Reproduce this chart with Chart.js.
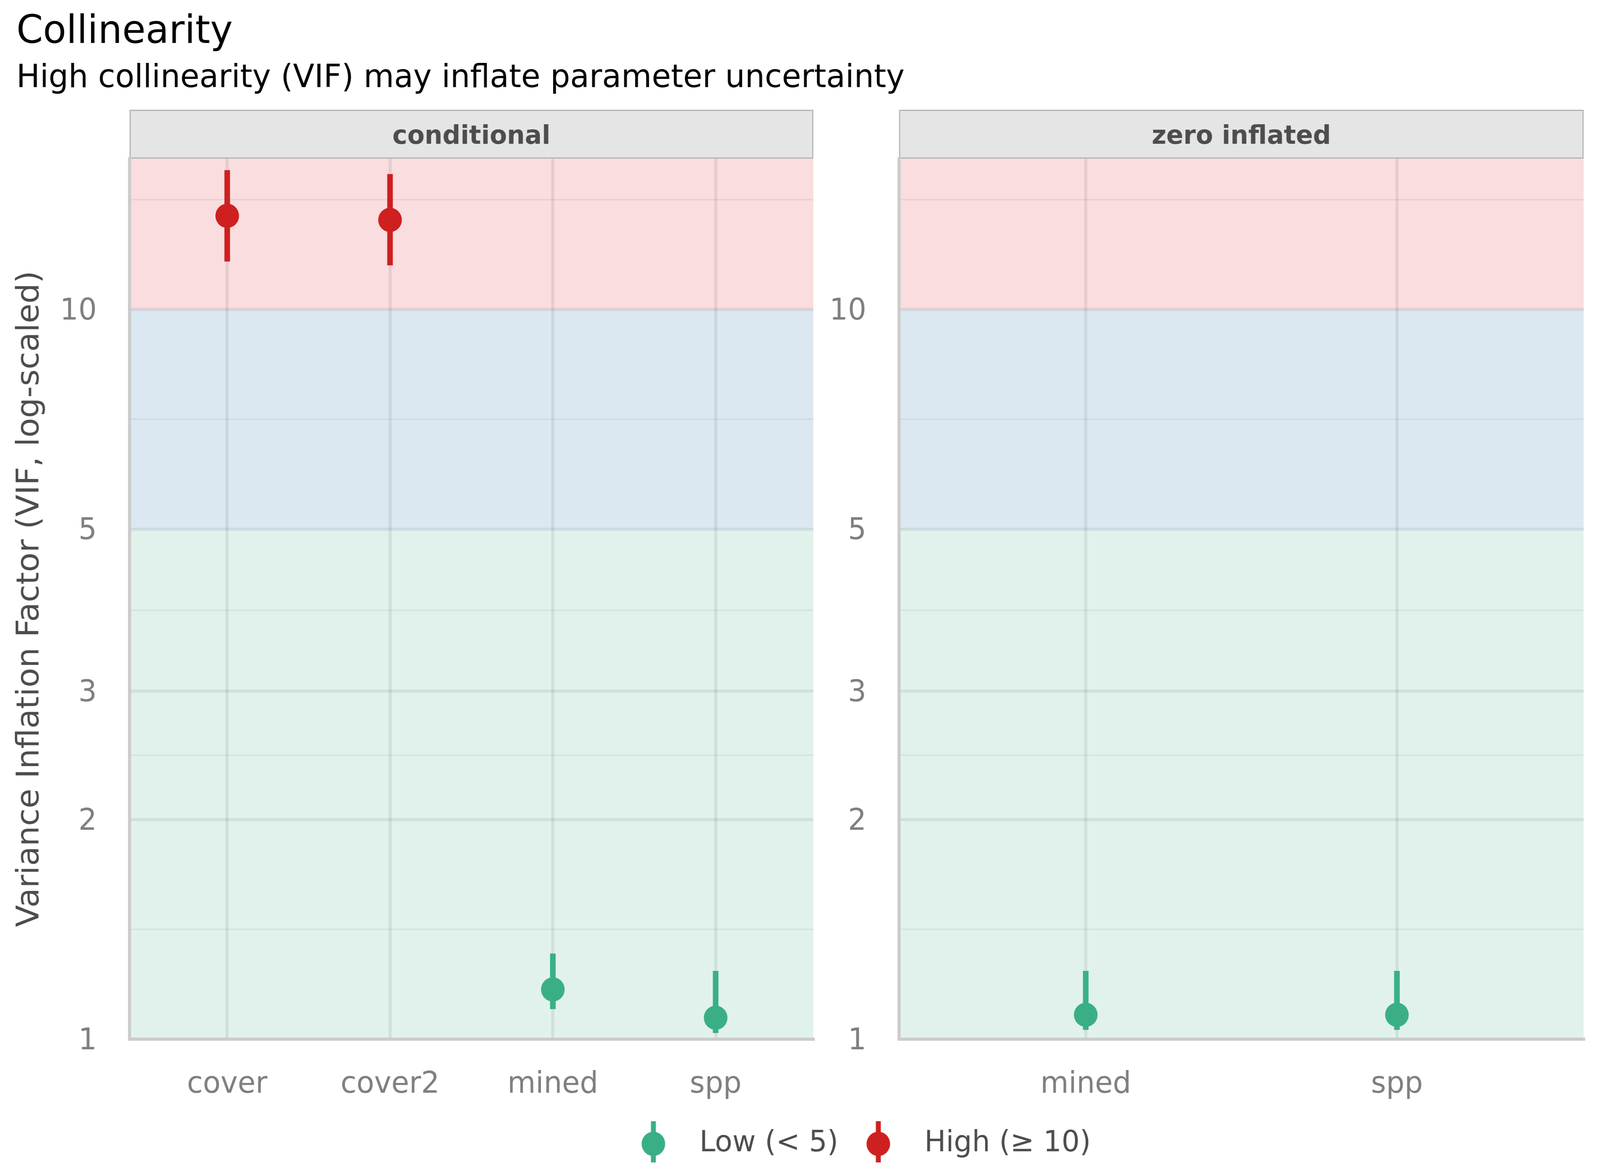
<!DOCTYPE html>
<html>
<head>
<meta charset="utf-8">
<style>
  html, body { margin: 0; padding: 0; background: #fff; overflow: hidden; }
  #wrap { position: relative; }
  canvas { position: absolute; left: 0; top: 0; }
</style>
</head>
<body>
<div id="wrap">
  <canvas id="condChart" width="4200" height="3000"></canvas>
  <canvas id="ziChart" width="4200" height="3000"></canvas>
</div>
<script src="https://cdn.jsdelivr.net/npm/chart.js"></script>
<script>
// conditional component
const condTerms = ['cover', 'cover2', 'mined', 'spp'];
const condVIF = [13.44, 13.27, 1.17, 1.07];
const condLo = [11.64, 11.50, 1.10, 1.02];
const condHi = [15.52, 15.33, 1.31, 1.24];

// zero inflated component
const ziTerms = ['mined', 'spp'];
const ziVIF = [1.08, 1.08];
const ziLo = [1.03, 1.03];
const ziHi = [1.24, 1.24];

const yMajor = [1, 2, 3, 5, 10];
const yMinor = [1.414, 2.449, 3.873, 7.071, 14.142];
const yMax = 16.1;

const groupNames = ['Low (< 5)', 'High (≥ 10)'];
const groupColors = ['#3AAF85', '#CD201F'];

// the figure is laid out on a 4200x3000 canvas, shown at the window size
const viewW = window.innerWidth || 4200, viewH = window.innerHeight || 3000;
document.getElementById('wrap').style.cssText = 'width:' + viewW + 'px;height:' + viewH + 'px';
document.querySelectorAll('canvas').forEach(c => {
  c.style.width = viewW + 'px';
  c.style.height = viewH + 'px';
});

Chart.defaults.font.family = '"DejaVu Sans", sans-serif';

// split one component into point / interval data for low or high group
function split(terms, vif, lo, hi, high) {
  const pts = [], bars = [];
  terms.forEach((t, i) => {
    if ((vif[i] >= 10) === high) {
      pts.push({x: i + 1, y: vif[i]});
      bars.push({x: i + 1, y: [lo[i], hi[i]]});
    }
  });
  return {pts, bars};
}

function makeDatasets(terms, vif, lo, hi) {
  const out = [];
  [false, true].forEach((high, g) => {
    const d = split(terms, vif, lo, hi, high);
    out.push({
      type: 'scatter', label: groupNames[g], data: d.pts,
      xAxisID: 'x', yAxisID: 'y',
      backgroundColor: groupColors[g], pointBackgroundColor: groupColors[g],
      pointRadius: 31, pointBorderWidth: 0, order: 0
    });
    out.push({
      type: 'bar', label: groupNames[g] + ' CI', data: d.bars,
      xAxisID: 'x', yAxisID: 'y',
      backgroundColor: groupColors[g], borderWidth: 0,
      barThickness: 14, grouped: false, order: 1
    });
  });
  return out;
}

const isMajor = c => c.tick && yMajor.includes(c.tick.value);

function yScale(width, title) {
  return {
    type: 'logarithmic', axis: 'y', position: 'left', min: 1, max: yMax,
    afterBuildTicks: ax => {
      ax.ticks = yMajor.concat(yMinor).sort((a, b) => a - b).map(v => ({value: v}));
    },
    afterFit: ax => { ax.width = width; },
    ticks: {
      callback: v => yMajor.includes(v) ? String(v) : '',
      color: '#7F7F7F', font: {size: 76}, padding: 86, labelOffset: 6, autoSkip: false
    },
    grid: {
      drawTicks: false,
      color: c => isMajor(c) ? 'rgba(0,0,0,0.075)' : 'rgba(0,0,0,0.055)',
      lineWidth: c => isMajor(c) ? 8 : 4
    },
    border: {display: true, color: '#CBCBCB', width: 8},
    title: title ? {
      display: true, text: title, color: '#4D4D4D',
      font: {size: 82, lineHeight: 0.9}, padding: 0
    } : {display: false}
  };
}

function xScale(terms) {
  return {
    type: 'linear', axis: 'x', position: 'bottom',
    min: 0.4, max: terms.length + 0.6, offset: false,
    afterBuildTicks: ax => { ax.ticks = terms.map((t, i) => ({value: i + 1})); },
    afterFit: ax => { ax.height = 209; },
    ticks: {
      callback: v => terms[v - 1],
      color: '#7F7F7F', font: {size: 76}, padding: 72,
      autoSkip: false, maxRotation: 0
    },
    grid: {drawTicks: false, offset: false, color: 'rgba(0,0,0,0.075)', lineWidth: 8},
    border: {display: true, color: '#CBCBCB', width: 8}
  };
}

function stripScale(label) {
  return {
    type: 'linear', axis: 'x', position: 'top',
    afterFit: ax => { ax.height = 125; },
    ticks: {display: false}, grid: {display: false}, border: {display: false},
    title: {
      display: true, text: label, color: '#4D4D4D',
      font: {size: 66, weight: 'bold'}, padding: {top: 30, bottom: 0}
    }
  };
}

function padScale(width) {
  return {
    type: 'linear', axis: 'y', position: 'right',
    afterFit: ax => { ax.width = width; },
    ticks: {display: false}, grid: {display: false}, border: {display: false}
  };
}

// coloured VIF zones and facet strip
const bands = {
  id: 'bands',
  beforeDraw(chart) {
    const {ctx, chartArea: a, scales} = chart;
    const y = scales.y;
    const y5 = y.getPixelForValue(5), y10 = y.getPixelForValue(10);
    ctx.save();
    ctx.fillStyle = '#E1F2EC';
    ctx.fillRect(a.left, y5, a.width, a.bottom - y5);
    ctx.fillStyle = '#DCE8F1';
    ctx.fillRect(a.left, y10, a.width, y5 - y10);
    ctx.fillStyle = '#F9DDDF';
    ctx.fillRect(a.left, a.top, a.width, y10 - a.top);
    const s = scales.strip;
    ctx.fillStyle = '#E5E5E5';
    ctx.fillRect(a.left, s.top, a.width, s.bottom - s.top);
    ctx.strokeStyle = '#B3B3B3';
    ctx.lineWidth = 3;
    ctx.strokeRect(a.left + 1.5, s.top + 1.5, a.width - 3, s.bottom - s.top - 3);
    ctx.restore();
  }
};

function legendIcon(color) {
  const c = document.createElement('canvas');
  c.width = 64; c.height = 116;
  const g = c.getContext('2d');
  g.fillStyle = color;
  g.fillRect(25.5, 0, 13, 116);
  g.beginPath();
  g.arc(32, 58, 31, 0, Math.PI * 2);
  g.fill();
  return c;
}

const PLOT_BOTTOM = 2660;
const LEGEND_PAD_BOTTOM = 8;

const condChart = new Chart(document.getElementById('condChart'), {
  type: 'scatter',
  data: {datasets: makeDatasets(condTerms, condVIF, condLo, condHi)},
  options: {
    responsive: false, animation: false, devicePixelRatio: 1, events: [],
    layout: {padding: {left: 43, right: 0, top: 0, bottom: 3000 - PLOT_BOTTOM - 209}},
    scales: {
      x: xScale(condTerms),
      strip: stripScale('conditional'),
      y: yScale(297, 'Variance Inflation Factor (VIF, log-scaled)'),
      pad: padScale(2065)
    },
    plugins: {
      legend: {display: false},
      tooltip: {enabled: false},
      title: {
        display: true, text: 'Collinearity', align: 'start', color: '#000',
        font: {size: 100, weight: 'normal', lineHeight: 1.2},
        padding: {top: 24, bottom: 0}
      },
      subtitle: {
        display: true, text: 'High collinearity (VIF) may inflate parameter uncertainty',
        align: 'start', color: '#000',
        font: {size: 82, weight: 'normal', lineHeight: 1.2},
        padding: {top: 9, bottom: 29.6}
      }
    }
  },
  plugins: [bands]
});

const ziChart = new Chart(document.getElementById('ziChart'), {
  type: 'scatter',
  data: {datasets: makeDatasets(ziTerms, ziVIF, ziLo, ziHi)},
  options: {
    responsive: false, animation: false, devicePixelRatio: 1, events: [],
    layout: {padding: {left: 295, right: 0, top: condChart.chartArea.top - 125, bottom: LEGEND_PAD_BOTTOM}},
    scales: {
      x: xScale(ziTerms),
      strip: stripScale('zero inflated'),
      y: yScale(2065, null),
      pad: padScale(43)
    },
    plugins: {
      tooltip: {enabled: false},
      legend: {
        display: true, position: 'bottom',
        labels: {
          usePointStyle: true, pointStyleWidth: 167, padding: 21.5,
          color: '#4D4D4D', font: {size: 75},
          generateLabels: () => groupNames.map((name, i) => ({
            text: name, pointStyle: legendIcon(groupColors[i]),
            fillStyle: groupColors[i], strokeStyle: groupColors[i],
            lineWidth: 0, hidden: false, datasetIndex: i * 2,
            fontColor: '#4D4D4D'
          }))
        }
      }
    }
  },
  plugins: [bands]
});

// line the right panel up with the left one
const shift = condChart.chartArea.bottom - ziChart.chartArea.bottom;
if (Math.abs(shift) > 0.5) {
  ziChart.options.layout.padding.bottom = LEGEND_PAD_BOTTOM - shift;
  ziChart.update();
}
</script>
</body>
</html>
